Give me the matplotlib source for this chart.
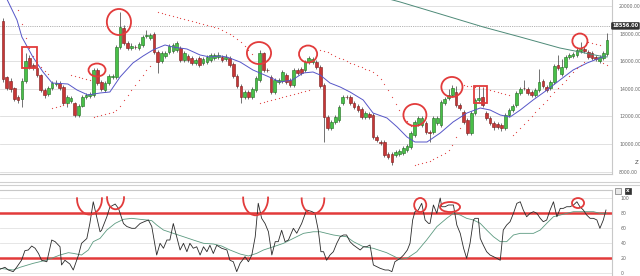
import numpy as np
import matplotlib
matplotlib.use("Agg")
import matplotlib.pyplot as plt
from matplotlib.patches import Ellipse, Rectangle, Arc

# ---- price candles ----
opens = [18910, 14850, 14560, 14055, 13400, 13260, 14560, 16230, 15720, 15500,
         15000, 13910, 13620, 14060, 14350, 14420, 14130, 12970, 13110, 12970,
         12100, 12750, 13400, 13480, 13550, 15360, 14490, 13910, 14420, 14850,
         14850, 17030, 18400, 17320, 16960, 17030, 16960, 17170, 17830, 17680,
         17970, 16670, 16010, 16380, 16670, 16740, 16810, 16960, 16090, 16380,
         16230, 15870, 16230, 15870, 15940, 16090, 16230, 16300, 16300, 16160,
         16230, 15800, 14930, 14200, 13400, 13770, 13400, 13910, 14640, 16590,
         15360, 14850, 13770, 14490, 14560, 15000, 14640, 14270, 15360, 15430,
         15360, 15940, 15940, 15940, 15580, 14270, 11950, 11150, 11590, 11730,
         12970, 13400, 13400, 12970, 12750, 12530, 11950, 12170, 12100, 10500,
         10140, 10140, 9270, 9270, 9200, 9270, 9340, 9560, 9780, 10650,
         11450, 11370, 11520, 10870, 10870, 11520, 11370, 12970, 13330, 13550,
         13770, 12820, 12320, 11730, 10790, 12240, 13190, 13400, 12240, 11880,
         11520, 11450, 11370, 11150, 12100, 12460, 12820, 13690, 14060, 13980,
         13770, 13550, 13910, 14560, 14130, 14060, 14490, 15720, 15070, 15580,
         16300, 16380, 16450, 16740, 16880, 16670, 16590, 16300, 16010, 16230,
         16520]
closes = [14710, 14055, 13980, 13260, 13190, 14560, 16010, 15580, 15580, 15000,
          13910, 13550, 14060, 14420, 14420, 14060, 12970, 13400, 13330, 12100,
          12750, 13400, 13550, 13620, 15360, 14420, 13980, 14420, 14930, 14930,
          17030, 18480, 17320, 16960, 17100, 17000, 17250, 17750, 17900, 17900,
          16670, 15940, 16590, 16590, 17100, 17170, 17320, 16090, 16590, 16090,
          15870, 16090, 15720, 16160, 16300, 16450, 16450, 16450, 16090, 16300,
          15720, 14930, 14200, 13400, 13770, 13400, 13980, 14780, 16590, 15360,
          15330, 13770, 14640, 14640, 15220, 14490, 14270, 15360, 15140, 15140,
          15940, 16230, 16160, 15580, 14200, 11950, 11150, 11590, 11950, 12680,
          13400, 13370, 12970, 12680, 12460, 11950, 12240, 11950, 10500, 10290,
          10070, 9200, 9050, 8690, 9420, 9490, 9710, 9850, 10790, 11590,
          11880, 11880, 10870, 10790, 11880, 11880, 13040, 13260, 13550, 14060,
          12820, 12600, 11590, 10790, 12240, 13190, 13330, 12820, 11880, 11520,
          11230, 11230, 11150, 12100, 12460, 12750, 13690, 13980, 14030, 13690,
          13550, 13910, 14490, 14200, 13910, 14490, 15650, 15500, 15580, 16300,
          16450, 16520, 16810, 16880, 16740, 16300, 16230, 16160, 16300, 16590,
          17530]
highs = [19130, 14930, 14780, 14130, 13550, 14780, 16590, 16450, 15870, 15650,
         15070, 14060, 14200, 14560, 14640, 14560, 14270, 13550, 13480, 13040,
         12900, 13550, 13690, 13760, 15500, 15500, 14640, 14560, 15070, 15070,
         17170, 19565, 18620, 17460, 17320, 17170, 17390, 17900, 18260, 18040,
         18110, 16810, 16740, 16740, 17250, 17320, 17460, 17100, 16740, 16520,
         16380, 16230, 16380, 16300, 16450, 16590, 16590, 16670, 16450, 16520,
         16380, 15940, 15070, 14350, 13910, 13910, 14130, 14930, 16810, 16670,
         15500, 15000, 14780, 14780, 15360, 15140, 14780, 15500, 15500, 15580,
         16090, 16380, 16300, 16090, 15720, 14420, 12100, 11730, 12100, 12820,
         13550, 13550, 13550, 13110, 12900, 12680, 12390, 12320, 12240, 10650,
         10290, 10290, 9420, 9420, 9560, 9630, 9850, 10000, 10940, 11730,
         12030, 12030, 11660, 11010, 12030, 12030, 13190, 13400, 13980, 14270,
         14200, 12970, 12460, 11880, 12390, 13330, 14200, 14130, 12390, 12030,
         11660, 11590, 11520, 12240, 12600, 12900, 13830, 14130, 14640, 14130,
         13910, 14060, 15430, 14710, 14270, 14640, 15800, 16450, 16160, 16450,
         16590, 16670, 16960, 17390, 17030, 16810, 16740, 16450, 16450, 16740,
         18040]
lows = [14490, 13910, 13760, 13110, 12970, 12680, 14420, 15430, 15360, 14850,
        13760, 13330, 13480, 13910, 14200, 13910, 12820, 12680, 12970, 11950,
        11950, 12680, 13260, 13330, 13400, 14270, 13830, 13760, 14270, 14710,
        14710, 16880, 17170, 16810, 16810, 16880, 16810, 17030, 17680, 17535,
        16520, 15140, 15870, 16230, 16520, 16590, 16670, 15940, 15940, 15940,
        15720, 15720, 15580, 15720, 15800, 15940, 16090, 16160, 15940, 16010,
        15580, 14780, 14060, 12970, 13260, 13260, 13260, 13760, 14490, 15220,
        15220, 13620, 13620, 14350, 14420, 14350, 14130, 14130, 15000, 15000,
        15220, 15800, 15800, 15430, 14060, 10140, 11010, 11010, 11450, 11590,
        12820, 13260, 12820, 12530, 12320, 11810, 11810, 11810, 10360, 10140,
        9920, 9050, 8910, 8470, 9050, 9130, 9200, 9420, 9630, 10500,
        11300, 11230, 10720, 10140, 10720, 11370, 11230, 12820, 13190, 13400,
        12680, 12460, 11450, 10650, 10650, 12100, 13040, 12680, 11730, 11370,
        11010, 11080, 10940, 11010, 11950, 12320, 12680, 13550, 13910, 13550,
        13400, 13400, 13770, 14060, 13770, 13910, 14350, 15360, 14930, 15430,
        16160, 16230, 16300, 16590, 16590, 16160, 16090, 16010, 15870, 16090,
        16380]

# short moving average (blue)
ma_x = [0.5, 3.7, 5.0, 7.9, 10.6, 13.0, 17.2, 19.6, 22.5, 25.7, 28.3, 31.0, 34.4,
        37.1, 39.7, 42.9, 45.0, 48.7, 52.2, 54.8, 57.5, 59.3, 62.8, 66.2, 69.9,
        73.4, 76.6, 79.5, 82.1, 84.0, 86.6, 89.3, 91.9, 95.4, 98.0, 101.7, 104.4,
        107.0, 109.1, 112.3, 115.8, 119.2, 122.9, 126.4, 129.0, 131.7, 134.3,
        137.0, 140.4, 144.1, 147.5, 151.0, 154.7, 158.1, 159.5]
ma_y = [20800, 18985, 17753, 16303, 15215, 14418, 14345, 13910, 13548, 13693,
        13765, 14853, 15868, 16375, 16810, 17173, 17028, 16883, 16448, 16303,
        16375, 16303, 15940, 15360, 14925, 14490, 14635, 15143, 15215, 14998,
        14418, 14128, 13765, 13185, 12243, 11880, 11228, 10503, 10140, 10140,
        10793, 11590, 12243, 12605, 12460, 12098, 11953, 12460, 13185, 13910,
        14635, 15360, 15868, 16230, 16375]

# long moving average (green)
lma_x = [101.2, 105.2, 115.8, 127.2, 137.0, 147.5, 152.8, 158.1, 160.0]
lma_y = [20580, 20290, 19420, 18478, 17753, 16955, 16665, 16375, 16303]

# parabolic SAR segments: (first index, values)
sar_segments = [
    (4, [19710, 18695, 17680, 16955, 16375, 15940, 15578, 15288, 15070]),
    (13, [12605, 12678, 12750, 12823, 12895]),
    (18, [14998, 14925, 14853, 14780, 14708, 14635]),
    (24, [11953, 12025, 12098, 12170, 12243, 12315, 12460, 12750, 13185, 13548,
          13910, 14273, 14635, 14998, 15360, 15650]),
    (41, [19565, 19493, 19420, 19348, 19275, 19203, 19130, 19058, 18985, 18913,
          18840, 18768, 18695, 18623, 18550, 18478, 18405, 18260, 18115, 17970,
          17825, 17608, 17390, 17100, 16810, 16520]),
    (68, [12968, 13040, 13113, 13185, 13258, 13330, 13403, 13475, 13548, 13620,
          13693, 13765, 13838, 13910]),
    (84, [16810, 16738, 16665, 16520, 16375, 16230, 16158, 16013, 15868, 15795,
          15650, 15578, 15433, 15360, 15215, 14998, 14708, 14345, 13910, 13403,
          12895, 12460, 12025, 11663, 11300]),
    (109, [8473, 8545, 8618, 8690, 8763, 8908, 9053, 9198, 9343, 9560, 9923,
           10503, 11155]),
    (122, [14273, 14200, 14200, 14128, 14055, 14055, 13983, 13910, 13838, 13765,
           13693, 13620, 13548]),
    (135, [10648, 10865, 11155, 11445, 11735, 12025, 12315, 12605, 12895, 13185,
           13475, 13765, 14055, 14345, 14635, 14925, 15215, 15505, 15723, 15940]),
    (155, [17390, 17318, 17245, 17173]),
    (159, [15868, 15723]),
]

price_ticks = [8000, 10000, 12000, 14000, 16000, 18000, 20000]
last_price = 18556

# ---- oscillator ----
osc_x = [-0.8, 0.5, 1.4, 2.7, 3.6, 4.9, 5.8, 6.7, 7.6, 8.5, 9.4, 10.2, 11.6, 12.9,
         13.8, 15.1, 15.5, 16.4, 17.7, 18.6, 20, 20.8, 22.2, 23, 23.9, 24.8, 25.7,
         26.1, 27.5, 28.3, 29.7, 30.6, 31.9, 32.8, 34.1, 35, 36.3, 37.2, 38.5,
         39.4, 40.7, 41.6, 42.5, 43.4, 44.2, 45.1, 46, 46.9, 47.8, 48.7, 49.5,
         50.4, 51.3, 52.2, 53.1, 54, 54.8, 55.7, 56.6, 57.9, 59.3, 60.1, 61, 61.9,
         62.8, 64.1, 65, 65.9, 66.8, 67.6, 68.5, 69.4, 70.3, 71.2, 72.1, 72.9,
         73.8, 74.7, 75.6, 76.9, 77.8, 79.1, 80.4, 81.8, 82.6, 83.5, 84.2, 84.9,
         85.7, 86.6, 87.5, 88.4, 89.3, 90.2, 91, 91.9, 92.8, 94.6, 95.5, 96.3,
         97.2, 98.1, 99, 99.9, 101.2, 102.1, 103, 103.8, 105.2, 106.1, 107.1,
         107.8, 108.5, 109.1, 110, 110.9, 111.8, 112.7, 113.1, 114, 114.9, 115.8,
         116.2, 117.1, 118, 119.3, 120.2, 121.1, 122, 122.8, 123.7, 124.6, 125,
         125.9, 126.4, 127.2, 128.1, 129, 129.9, 130.8, 131.7, 132.5, 133.4,
         134.3, 135.2, 136.1, 137, 137.8, 138.7, 139.6, 140.5, 141.4, 142.3,
         143.1, 144, 144.9, 145.8, 146.7, 147.6, 148.4, 149.3, 150.2, 151.1, 152,
         152.8, 153.7, 154.6, 155.5, 156.4, 157.3, 158.1, 159, 159.7]
osc_v = [5, 7.6, 4, 1.8, 7.6, 17, 29.8, 30.7, 36, 33, 26, 17, 15, 44,
         41.8, 35, 10.7, 17, 12, 4, 24, 39.6, 46, 66, 95, 75, 55,
         57, 75, 88, 92, 86, 66, 62, 59.6, 59.6, 66, 68, 70.7,
         62, 24, 39.6, 33, 44, 44, 66, 48.4, 30.7, 39.6, 28.4, 39.6,
         33, 35, 24, 35, 28.4, 37, 26, 37, 33, 30.7, 17, 15, 1.8,
         13, 21.8, 15, 24, 48.4, 93, 73, 66, 55, 24, 41.8, 41.8,
         57, 41.8, 44, 59.6, 53, 66, 84, 82, 79.6, 57, 28.4, 28.4,
         17, 24, 28.4, 39.6, 48.4, 50.7, 50.7, 41.8, 37.3, 30.7, 35, 35,
         37.3, 10.7, 8.4, 6.2, 4, 4, 1.8, 15, 19.6, 24, 30.7,
         39.6, 70.7, 81.8, 84, 92.9, 70.7, 66.2, 66.2, 90.7, 79.6, 100,
         88.4, 88.4, 90.7, 90.7, 64, 52.9, 32.9, 19.6, 39.6, 70.7, 72.9,
         72.9, 46.2, 37.3, 28.4, 24, 21.8, 19.6, 17, 57.3, 64,
         68.4, 79.6, 92.9, 95, 84, 75, 79.6, 81.8, 79.6, 72.9,
         68.4, 70.7, 84, 95, 75, 86.2, 86.2, 88.4, 88.4, 90.7, 95,
         88.4, 84, 77.3, 72.9, 72.9, 70.7, 59.6, 70.7, 84]

sig_x = [-0.8, 2.7, 4.5, 8, 11.6, 15.1, 17.3, 18.6, 20.8, 22.6, 23.9, 25.7, 27.5,
         29.7, 31.9, 34.1, 36.3, 38.1, 39.4, 40.7, 42.5, 45.1, 47.8, 50.4, 53.1,
         55.7, 57.9, 60.1, 62.8, 65, 67.2, 69, 71.6, 74.3, 76.9, 79.6, 82.2, 84,
         85.7, 87.5, 89.3, 91, 92.8, 95.5, 98.1, 101.6, 105.2, 107, 109.6, 112.2,
         114.9, 117.5, 119.3, 121.1, 122.8, 124.6, 126.4, 128.1, 129.9, 131.7,
         133.4, 135.2, 137, 138.7, 140.5, 142.3, 144, 145.8, 147.6, 149.3, 151.1,
         152.8, 154.6, 156.4, 158.1, 159.9]
sig_v = [6.2, 4, 7.6, 12.9, 17.3, 24, 27.1, 26.2, 24, 30.7, 41.8, 46.2, 57.3,
         66.2, 71.6, 72.9, 71.6, 70.7, 69.8, 64, 57.3, 52.9, 48.4, 44, 39.6,
         38.7, 36, 30.7, 25.3, 22.7, 26.2, 30.7, 35, 39.6, 46.2, 52.9, 55, 55,
         52.9, 50.7, 49.3, 48.4, 41.8, 35, 32.9, 27.1, 18.2, 19.6, 28.4, 44,
         61.8, 72.9, 79.6, 77.3, 72.9, 70.7, 66.2, 57.3, 48.4, 41.8,
         41.8, 50.7, 52.9, 52.9, 52.9, 57.3, 66.2, 75.1, 77.3, 79.6, 81.8,
         81.8, 81.8, 81.8, 79.6, 79.6]
osc_ticks = [0, 20, 40, 60, 80, 100]
osc_levels = [80, 20]

# hand drawn marks: (x index, price, width, height)
price_circles = [(24.9, 15360, 4.5, 940), (30.7, 18840, 6.4, 1885),
                 (67.8, 16590, 6.4, 1595), (80.8, 16520, 4.8, 1230),
                 (109.1, 12100, 6.1, 1595), (118.9, 14130, 5.6, 1450),
                 (152.8, 17460, 4.0, 1090)]
price_boxes = [(5.0, 15505, 4.0, 1522), (124.8, 12968, 3.4, 1232)]
osc_circles = [(22.9, 99, 6.6, 42), (29.8, 101, 4.5, 32), (66.9, 100, 6.6, 46),
               (82.1, 99, 6.0, 40)]
osc_ovals = [(110.5, 90.7, 3.2, 18.7), (118.4, 88, 5.3, 13.3), (152.3, 93.3, 3.2, 13.3)]

RED = '#e23b3b'
W, H = 640, 276
fig = plt.figure(figsize=(6.4, 2.76), dpi=100)
fig.patch.set_facecolor('white')

# ---------- upper panel ----------
ax = fig.add_axes([0, 1 - 174 / H, 612 / W, 174 / H])
ax.set_xlim(-0.8, 161.3)
ax.set_ylim(7820, 20435)
for t in price_ticks:
    ax.axhline(t, color='#dcdcdc', lw=0.6, zorder=0)
ax.axhline(last_price, color='#9a9a9a', lw=0.6, ls=(0, (1, 1.2)), zorder=0)

o = np.array(opens); c = np.array(closes)
hi = np.array(highs); lo = np.array(lows)
idx = np.arange(len(o))
up = c >= o
ax.vlines(idx, lo, hi, color='#3a3a3a', lw=0.5, zorder=2)
ax.bar(idx[up], np.maximum(c - o, 20)[up], bottom=o[up], width=0.72,
       color='#48c048', edgecolor='#1d6b1d', lw=0.4, zorder=3)
ax.bar(idx[~up], np.maximum(o - c, 20)[~up], bottom=c[~up], width=0.72,
       color='#c83636', edgecolor='#7a1a1a', lw=0.4, zorder=3)

ax.plot(ma_x, ma_y, color='#5656c8', lw=0.7, zorder=4)
ax.plot(lma_x, lma_y, color='#4e8a78', lw=0.7, zorder=4)
for start, vals in sar_segments:
    ax.plot(np.arange(start, start + len(vals)), vals, ls='none', marker='o',
            ms=0.9, mfc='#e04848', mec='none', zorder=4)

for cx, cy, w, h in price_circles:
    ax.add_patch(Ellipse((cx, cy), w, h, fill=False, ec=RED, lw=1.3, zorder=6))
for x0, y0, w, h in price_boxes:
    ax.add_patch(Rectangle((x0, y0), w, h, fill=False, ec=RED, lw=1.3, zorder=6))

ax.yaxis.tick_right()
ax.set_yticks(price_ticks)
ax.set_yticklabels(['%.2f' % t for t in price_ticks])
ax.tick_params(axis='y', length=0, labelsize=3.3, labelcolor='#666', pad=5)
ax.set_xticks([])
for s in ['top', 'left']:
    ax.spines[s].set_visible(False)
ax.spines['right'].set_color('#c8c8c8')
ax.spines['bottom'].set_color('#c8c8c8')
ax.spines['right'].set_linewidth(0.8)
ax.spines['bottom'].set_linewidth(0.8)
# current price tag at the right border
tag_y = ax.transData.transform((0, last_price))[1] / (H * 1.0)
fig.text(638.5 / W, tag_y, '%.2f' % last_price, ha='right', va='center',
         fontsize=3.6, color='white', fontweight='bold', zorder=10,
         bbox=dict(boxstyle='round,pad=0.25', fc='#333333', ec='none'))
fig.text(637 / W, 1 - 163 / H, 'Z', fontsize=4, color='#444', ha='center', va='center')

# ---------- separator ----------
fig.add_artist(plt.Line2D([0, 1], [1 - 182 / H, 1 - 182 / H], color='#d0d0d0', lw=0.8))
fig.add_artist(plt.Line2D([0, 1], [1 - 185 / H, 1 - 185 / H], color='#d0d0d0', lw=0.8))

# ---------- lower panel ----------
ax2 = fig.add_axes([0, 0, 612 / W, 86 / H])
ax2.set_xlim(-0.8, 161.3)
ax2.set_ylim(-4, 110.7)
for t in osc_ticks:
    ax2.axhline(t, color='#e2e2e2', lw=0.6, zorder=0)
for lv in osc_levels:
    ax2.axhline(lv, color=RED, lw=1.8, zorder=2)
ax2.plot(sig_x, sig_v, color='#5c9a80', lw=0.6, zorder=3)
ax2.plot(osc_x, osc_v, color='#2a2a2a', lw=0.6, zorder=4)
for cx, cy, w, h in osc_circles:
    ax2.add_patch(Arc((cx, cy), w, h, theta1=150, theta2=390, ec=RED, lw=1.3, zorder=6))
for cx, cy, w, h in osc_ovals:
    ax2.add_patch(Ellipse((cx, cy), w, h, fill=False, ec=RED, lw=1.3, zorder=6))
ax2.yaxis.tick_right()
ax2.set_yticks(osc_ticks)
ax2.tick_params(axis='y', length=0, labelsize=3.3, labelcolor='#666', pad=6)
ax2.set_xticks([])
for s in ['left', 'bottom']:
    ax2.spines[s].set_visible(False)
ax2.spines['top'].set_color('#c8c8c8')
ax2.spines['right'].set_color('#c8c8c8')
ax2.spines['top'].set_linewidth(0.8)
ax2.spines['right'].set_linewidth(0.8)

# panel buttons
fig.add_artist(Rectangle((615 / W, 1 - 194 / H), 6 / W, 6 / H, transform=fig.transFigure,
                         fc='#e8e8e8', ec='#777', lw=0.5))
fig.add_artist(Rectangle((625 / W, 1 - 194 / H), 6 / W, 6 / H, transform=fig.transFigure,
                         fc='#333', ec='#333', lw=0.5))
fig.text(628 / W, 1 - 191 / H, 'x', fontsize=4, color='white', ha='center', va='center',
         fontweight='bold')

fig.savefig('out.png', dpi=100)
